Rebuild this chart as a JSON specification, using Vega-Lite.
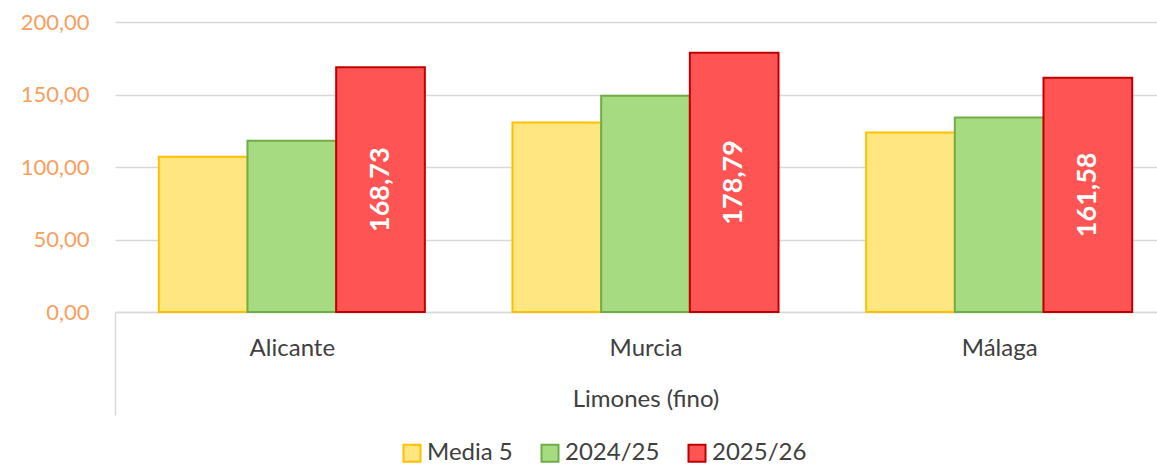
{
  "$schema": "https://vega.github.io/schema/vega-lite/v6.json",
  "width": 1042,
  "height": 290,
  "autosize": "none",
  "padding": {"left": 115, "top": 22, "right": 0, "bottom": 154},
  "data": {
    "values": [
      {"provincia": "Alicante", "serie": "Media 5", "valor": 107.1},
      {"provincia": "Alicante", "serie": "2024/25", "valor": 118.1},
      {"provincia": "Alicante", "serie": "2025/26", "valor": 168.73},
      {"provincia": "Murcia", "serie": "Media 5", "valor": 130.7},
      {"provincia": "Murcia", "serie": "2024/25", "valor": 149.2},
      {"provincia": "Murcia", "serie": "2025/26", "valor": 178.79},
      {"provincia": "Málaga", "serie": "Media 5", "valor": 123.8},
      {"provincia": "Málaga", "serie": "2024/25", "valor": 134.2},
      {"provincia": "Málaga", "serie": "2025/26", "valor": 161.58}
    ]
  },
  "layer": [
    {
      "mark": {"type": "bar", "strokeWidth": 2},
      "encoding": {
        "x": {
          "field": "provincia",
          "type": "nominal",
          "sort": ["Alicante", "Murcia", "Málaga"],
          "scale": {"paddingInner": 0, "paddingOuter": 0, "range": [0, 1061]},
          "axis": {
            "title": "Limones (fino)",
            "titleFont": "Lato",
            "titleFontSize": 24,
            "titleFontWeight": "normal",
            "titleColor": "#404040",
            "titleBaseline": "alphabetic",
            "titleY": 94,
            "labelFont": "Lato",
            "labelFontSize": 24,
            "labelColor": "#404040",
            "labelAngle": 0,
            "labelBaseline": "alphabetic",
            "labelPadding": -60,
            "domainColor": "#D9D9D9",
            "domainWidth": 1.5,
            "ticks": true,
            "tickBand": "extent",
            "tickSize": 103,
            "tickWidth": 1.5,
            "tickColor": {"condition": {"test": "datum.index < 0 || !isValid(datum.value)", "value": "#D9D9D9"}, "value": "transparent"},
            "grid": false
          }
        },
        "xOffset": {
          "field": "serie",
          "type": "nominal",
          "sort": ["Media 5", "2024/25", "2025/26"],
          "scale": {"domain": ["Media 5", "2024/25", "2025/26"], "paddingInner": 0, "paddingOuter": 0.494}
        },
        "y": {
          "field": "valor",
          "type": "quantitative",
          "scale": {"domain": [0, 200], "nice": false},
          "axis": {
            "title": null,
            "values": [0, 50, 100, 150, 200],
            "format": ".2f",
            "labelFont": "Lato",
            "labelFontSize": 22,
            "labelColor": "#F9A05F",
            "labelPadding": 26,
            "ticks": false,
            "domain": false,
            "grid": true,
            "gridColor": "#D9D9D9",
            "gridWidth": 1.5
          }
        },
        "fill": {
          "field": "serie",
          "type": "nominal",
          "sort": ["Media 5", "2024/25", "2025/26"],
          "scale": {"domain": ["Media 5", "2024/25", "2025/26"], "range": ["#FFE680", "#A6DB82", "#FF5454"]},
          "legend": {"title": null}
        },
        "stroke": {
          "field": "serie",
          "type": "nominal",
          "sort": ["Media 5", "2024/25", "2025/26"],
          "scale": {"domain": ["Media 5", "2024/25", "2025/26"], "range": ["#FFC000", "#70AD47", "#C00000"]},
          "legend": {"title": null}
        }
      }
    },
    {
      "transform": [{"filter": "datum.serie === '2025/26'"}],
      "mark": {"type": "text", "angle": 270, "align": "center", "baseline": "middle", "font": "Lato", "fontSize": 27, "fontWeight": "bold", "fill": "#FFFFFF"},
      "encoding": {
        "x": {"field": "provincia", "type": "nominal", "sort": ["Alicante", "Murcia", "Málaga"]},
        "xOffset": {"field": "serie", "type": "nominal", "sort": ["Media 5", "2024/25", "2025/26"]},
        "y": {"field": "valor", "type": "quantitative", "scale": {"domain": [0, 400], "nice": false}, "axis": null},
        "text": {"field": "valor", "type": "quantitative", "format": ".2f"}
      }
    }
  ],
  "resolve": {"scale": {"y": "independent"}},
  "config": {
    "locale": {"number": {"decimal": ",", "thousands": ".", "grouping": [3], "currency": ["", " €"]}},
    "view": {"stroke": null},
    "legend": {
      "orient": "none",
      "direction": "horizontal",
      "legendX": 285,
      "legendY": 419,
      "padding": 0,
      "symbolType": "square",
      "symbolSize": 289,
      "symbolStrokeWidth": 2,
      "labelFont": "Lato",
      "labelFontSize": 24,
      "labelColor": "#404040",
      "labelOffset": 3,
      "columnPadding": 24
    }
  }
}
